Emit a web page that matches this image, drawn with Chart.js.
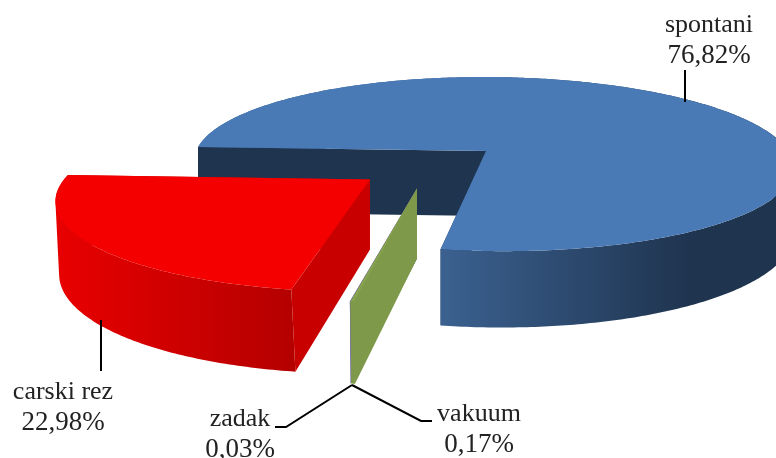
<!DOCTYPE html>
<html>
<head>
<meta charset="utf-8">
<script src="https://cdn.jsdelivr.net/npm/chart.js@4"></script>
<style>
    html, body { margin: 0; padding: 0; background: #fff; }
    canvas { display: block; }
</style>
</head>
<body>
<canvas id="BirthTypeChart" width="776" height="458"></canvas>
<script>
var categories = ["spontani", "vakuum", "zadak", "carski rez"];
var seriesValues = [76.82, 0.17, 0.03, 22.98];

var topColors = ["#4a7ab5", "#86a34e", "#7464a4", "#f40000"];
var wallColors = ["#1f344f", "#7f994a", "#7464a4", "#c80000"];
var sideColors = [["#3b6190", "#1f344f"], ["#7f994a", "#7f994a"], ["#7464a4", "#7464a4"], ["#e80000", "#b40000"]];
var sideRanges = [[441, 690], [340, 360], [340, 360], [58, 297]];

// tilted pie: x,y = apex on screen, b,c = radii, k,m = perspective, s,t = skew, d = thickness, lean = x drift of the thickness
var views = [
    { x: 486, y: 151, b: 296, c: 85, k: 0.149, m: 0.028, s: -0.06, t: 0.014, d: 65, lean: 0 },
    { x: 417, y: 188.5, b: 300, c: 97, k: 0.149, m: 0, s: -0.2, t: 0, d: 70, lean: 0.01 },
    { x: 417, y: 188.5, b: 300, c: 97, k: 0.149, m: 0, s: -0.2, t: 0, d: 70, lean: 0.01 },
    { x: 370, y: 179.5, b: 302, c: 89.5, k: 0.2, m: 0, s: -0.28, t: 0.015, d: 70, lean: 0.05 }
];
var drawOrder = [0, 2, 1, 3];

var labelSpots = [
    { x: 709, y: 32 },
    { x: 479, y: 421 },
    { x: 240, y: 426 },
    { x: 63, y: 399 }
];
var leaderLines = [
    [[685, 70], [685, 102]],
    [[352, 385], [421, 421], [432, 421]],
    [[352, 385], [286, 427], [275, 427]],
    [[101, 320], [101, 371]]
];

function project(view, angle, depth) {
    var u = Math.cos(angle), v = Math.sin(angle), w = 1 - view.k * v - view.m * u;
    var px = view.b * u / w, py = view.c * v / w;
    var drop = depth ? view.d / (1 - 0.149 * v) : 0;
    return {
        x: view.x + px + view.s * py + view.lean * drop,
        y: view.y + py + view.t * px + drop
    };
}

function arcPoints(view, start, end, depth) {
    var pts = [];
    var steps = Math.max(2, Math.ceil(Math.abs(end - start) * 80));
    for (var i = 0; i <= steps; i++) {
        pts.push(project(view, start + (end - start) * i / steps, depth));
    }
    return pts;
}

function fillPoly(ctx, pts, fill) {
    ctx.beginPath();
    pts.forEach(function (p, i) {
        if (i === 0) ctx.moveTo(p.x, p.y); else ctx.lineTo(p.x, p.y);
    });
    ctx.closePath();
    ctx.fillStyle = fill;
    ctx.fill();
}

function wall(ctx, view, angle, fill) {
    var apex = { x: view.x, y: view.y };
    var apexLow = { x: view.x, y: view.y + view.d };
    fillPoly(ctx, [apex, project(view, angle, false), project(view, angle, true), apexLow], fill);
}

function polyArea(q) {
    var area = 0;
    for (var i = 0; i < q.length; i++) {
        var n = q[(i + 1) % q.length];
        area += q[i].x * n.y - n.x * q[i].y;
    }
    return area;
}

// sweep the rim down in one path, all quads wound the same way, so no seams and no holes at a bulge
function rim(ctx, view, start, end, fill) {
    var upper = arcPoints(view, start, end, false);
    var lower = arcPoints(view, start, end, true);
    ctx.beginPath();
    for (var i = 0; i < upper.length - 1; i++) {
        var q = [upper[i], upper[i + 1], lower[i + 1], lower[i]];
        if (polyArea(q) < 0) q.reverse();
        ctx.moveTo(q[0].x, q[0].y);
        ctx.lineTo(q[1].x, q[1].y);
        ctx.lineTo(q[2].x, q[2].y);
        ctx.lineTo(q[3].x, q[3].y);
        ctx.closePath();
    }
    ctx.fillStyle = fill;
    ctx.fill("nonzero");
}

var pie3d = {
    id: "pie3d",
    beforeDatasetsDraw: function (chart) {
        var ctx = chart.ctx;
        var arcs = chart.getDatasetMeta(0).data;
        ctx.save();
        drawOrder.forEach(function (i) {
            var view = views[i];
            var a = arcs[i].getProps(["startAngle", "endAngle"], true);
            wall(ctx, view, a.endAngle, wallColors[i]);
            var grad = ctx.createLinearGradient(sideRanges[i][0], 0, sideRanges[i][1], 0);
            grad.addColorStop(0, sideColors[i][0]);
            grad.addColorStop(1, sideColors[i][1]);
            rim(ctx, view, a.startAngle, a.endAngle, grad);
            wall(ctx, view, a.startAngle, wallColors[i]);
            var top = [{ x: view.x, y: view.y }].concat(arcPoints(view, a.startAngle, a.endAngle, false));
            fillPoly(ctx, top, topColors[i]);
        });
        ctx.restore();
        return false;
    },
    afterDraw: function (chart) {
        var ctx = chart.ctx;
        ctx.save();
        ctx.strokeStyle = "#000";
        ctx.lineWidth = 2;
        leaderLines.forEach(function (line) {
            ctx.beginPath();
            line.forEach(function (p, i) {
                if (i === 0) ctx.moveTo(p[0], p[1]); else ctx.lineTo(p[0], p[1]);
            });
            ctx.stroke();
        });
        ctx.fillStyle = "#222";
        ctx.textAlign = "center";
        categories.forEach(function (name, i) {
            ctx.font = "26px 'Liberation Serif'";
            ctx.fillText(name, labelSpots[i].x, labelSpots[i].y);
            ctx.font = "27px 'Liberation Serif'";
            ctx.fillText(seriesValues[i].toFixed(2).replace(".", ",") + "%", labelSpots[i].x, labelSpots[i].y + 31);
        });
        ctx.restore();
    }
};

var ctx = document.getElementById("BirthTypeChart").getContext("2d");
var myPieChart = new Chart(ctx, {
    type: "pie",
    data: {
        labels: categories,
        datasets: [{
            data: seriesValues,
            backgroundColor: topColors,
            borderWidth: 0
        }]
    },
    options: {
        responsive: false,
        animation: false,
        rotation: -90,
        plugins: {
            legend: { display: false },
            title: { display: false },
            tooltip: { enabled: false }
        }
    },
    plugins: [pie3d]
});
</script>
</body>
</html>
